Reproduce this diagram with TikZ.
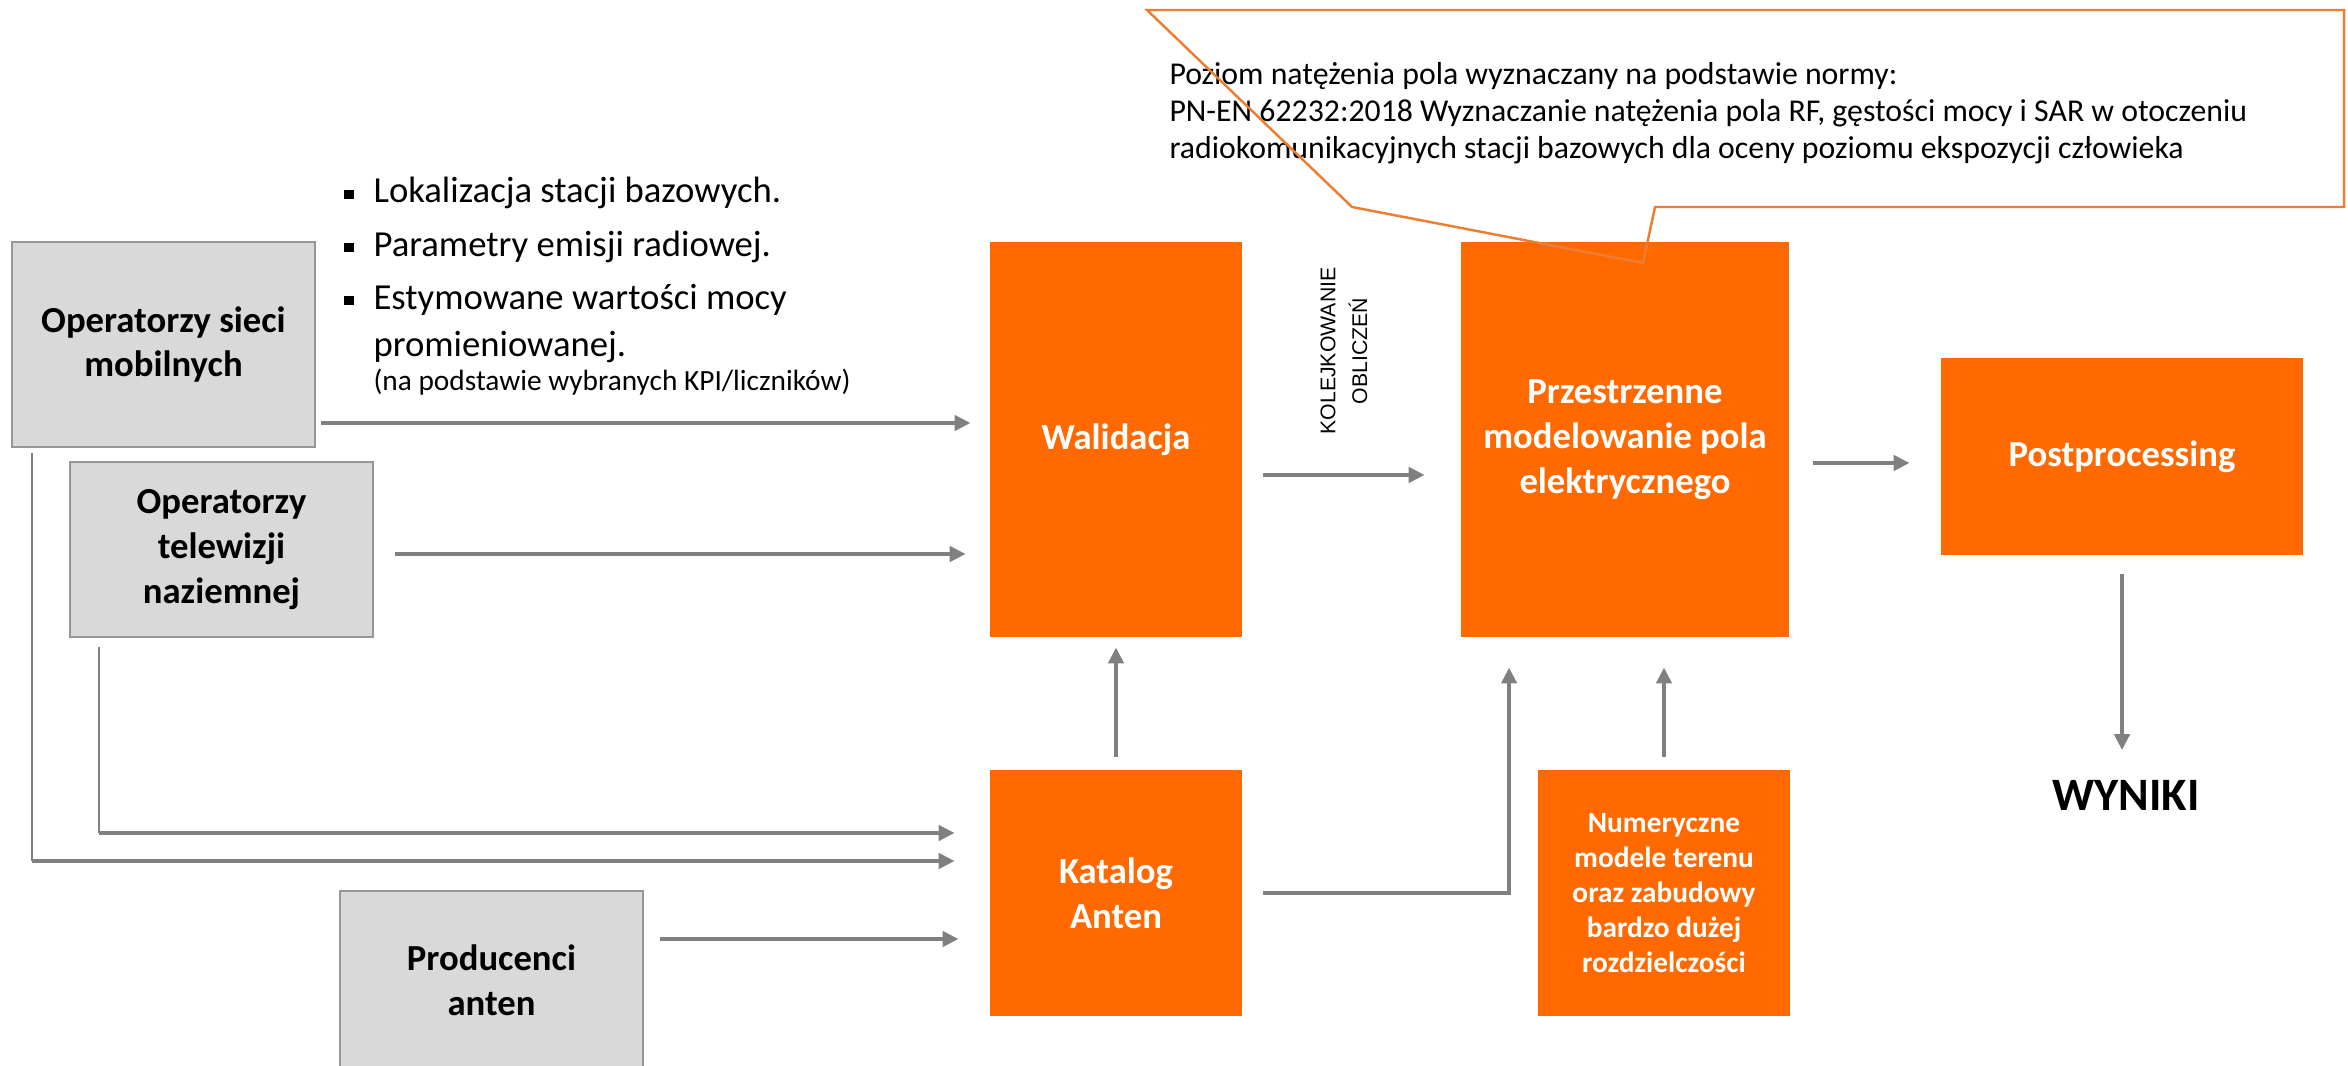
\documentclass[tikz,border=0pt]{standalone}
\usepackage{fontspec}
\setmainfont{Carlito}
\newfontfamily\queuefont{Liberation Sans}
\usetikzlibrary{arrows.meta}
\definecolor{pporange}{RGB}{255,105,0}
\definecolor{ppcallout}{RGB}{237,125,49}
\definecolor{ppgray}{RGB}{217,217,217}
\definecolor{ppborder}{RGB}{150,150,150}
\definecolor{pparrow}{RGB}{128,128,128}
\newcommand{\sqbullet}{\makebox[11.9pt][l]{\rule[1.65pt]{3.7pt}{3.7pt}}}

\begin{document}
\begin{tikzpicture}[
    x=0.4089pt,
    y=-0.4089pt,
    font=\fontsize{15}{19.2}\selectfont,
    source/.style={draw=ppborder, line width=0.8pt, fill=ppgray, align=center, inner sep=0pt, font=\fontsize{15}{18.3}\selectfont\bfseries},
    stage/.style={fill=pporange, text=white, align=center, inner sep=0pt, font=\fontsize{15}{18.3}\selectfont\bfseries},
    arrow/.style={-{Triangle[length=6.5pt, width=6.2pt]}, line width=1.6pt, draw=pparrow},
    feed/.style={line width=0.6pt, draw=pparrow},
    bubble/.style={draw=ppcallout, line width=1pt}
]
\useasboundingbox (0,0) rectangle (2348,1066);
% callout with the standard (white ground first, outline after the boxes)
\fill[white] (1147,10) -- (2344,10) -- (2344,207) -- (1655,207) -- (1643,263) -- (1352,207) -- cycle;
\node[anchor=base west, align=left, inner sep=0pt, font=\fontsize{13}{15.3}\selectfont] (norm) at (1169,159) {Poziom natężenia pola wyznaczany na podstawie normy:\\PN-EN 62232:2018 Wyznaczanie natężenia pola RF, gęstości mocy i SAR w otoczeniu\\radiokomunikacyjnych stacji bazowych dla oceny poziomu ekspozycji człowieka};
% sources
\node[source, minimum width=123.9pt, minimum height=83.8pt] (mobile) at (163.5,344.5) {Operatorzy sieci\\mobilnych};
\node[source, minimum width=123.9pt, minimum height=71.6pt] (tv) at (221.5,549.5) {Operatorzy\\telewizji\\naziemnej};
\node[source, minimum width=123.9pt, minimum height=72.8pt] (prod) at (491.5,980) {Producenci\\anten};
\node[anchor=base west, align=left, inner sep=0pt] (inputs) at (344,391) {\sqbullet Lokalizacja stacji bazowych.\\[2.5pt]\sqbullet Parametry emisji radiowej.\\[2.5pt]\sqbullet Estymowane wartości mocy\\\hspace*{11.9pt}promieniowanej.\\[-4.9pt]\hspace*{11.9pt}{\fontsize{12}{14.3}\selectfont(na podstawie wybranych KPI/liczników)}};
% processing stages
\node[stage, minimum width=103pt, minimum height=161.5pt] (walid) at (1116,439.5) {Walidacja};
\node[stage, minimum width=103pt, minimum height=100.6pt] (katalog) at (1116,893) {Katalog\\Anten};
\node[stage, minimum width=134.1pt, minimum height=161.5pt] (field) at (1625,439.5) {Przestrzenne\\modelowanie pola\\elektrycznego};
\node[stage, minimum width=103pt, minimum height=100.6pt, font=\fontsize{12}{14.3}\selectfont\bfseries] (terrain) at (1664,893) {Numeryczne\\modele terenu\\oraz zabudowy\\bardzo dużej\\rozdzielczości};
\node[stage, minimum width=148pt, minimum height=80.6pt] (post) at (2122,456.5) {Postprocessing};
\node[font=\fontsize{19}{23}\selectfont\bfseries, inner sep=0pt, anchor=base] (results) at (2126,810) {WYNIKI};
\node[rotate=90, align=center, inner sep=0pt, font=\queuefont\fontsize{8.7}{13}\selectfont] (queue) at (1344,351) {KOLEJKOWANIE\\OBLICZEŃ};
\draw[bubble] (1147,10) -- (2344,10) -- (2344,207) -- (1655,207) -- (1643,263) -- (1352,207) -- cycle;
% taps
\coordinate (mobtap) at (321,423);
\coordinate (tvtap) at (395,554);
\coordinate (prodtap) at (660,939);
\coordinate (tvdrop) at (99,647);
\coordinate (tvbend) at (99,833);
\coordinate (mobdrop) at (32,453);
\coordinate (mobbend) at (32,861);
% connectors
\draw[arrow, shorten >=7.8pt] (mobtap) -- (mobtap -| walid.west);
\draw[arrow, shorten >=9.8pt] (tvtap) -- (tvtap -| walid.west);
\draw[feed] (tvdrop) -- (tvbend);
\draw[arrow, shorten >=14.3pt] (tvbend) -- (tvbend -| katalog.west);
\draw[feed] (mobdrop) -- (mobbend);
\draw[arrow, shorten >=14.3pt] (mobbend) -- (mobbend -| katalog.west);
\draw[arrow, shorten >=12.7pt] (prodtap) -- (prodtap -| katalog.west);
\draw[arrow, shorten <=5.3pt, shorten >=4.1pt] (katalog.north) -- (walid.south);
\draw[arrow, shorten <=8.2pt, shorten >=14.7pt] ([yshift=-14.5pt]walid.east) -- ([yshift=-14.5pt]walid.east -| field.west);
\draw[arrow, shorten <=9.8pt, shorten >=12.7pt] ([yshift=-9.6pt]field.east) -- ([yshift=-9.6pt]field.east -| post.west);
\draw[arrow, shorten <=7.4pt, shorten >=24.5pt] (post.south) -- (post.south |- results.base);
\draw[arrow, shorten <=8.2pt, shorten >=12.3pt] (katalog.east) -| ([xshift=-47.4pt]field.south);
\draw[arrow, shorten <=5.3pt, shorten >=12.3pt] (terrain.north) -- (terrain.north |- field.south);
\end{tikzpicture}
\end{document}
